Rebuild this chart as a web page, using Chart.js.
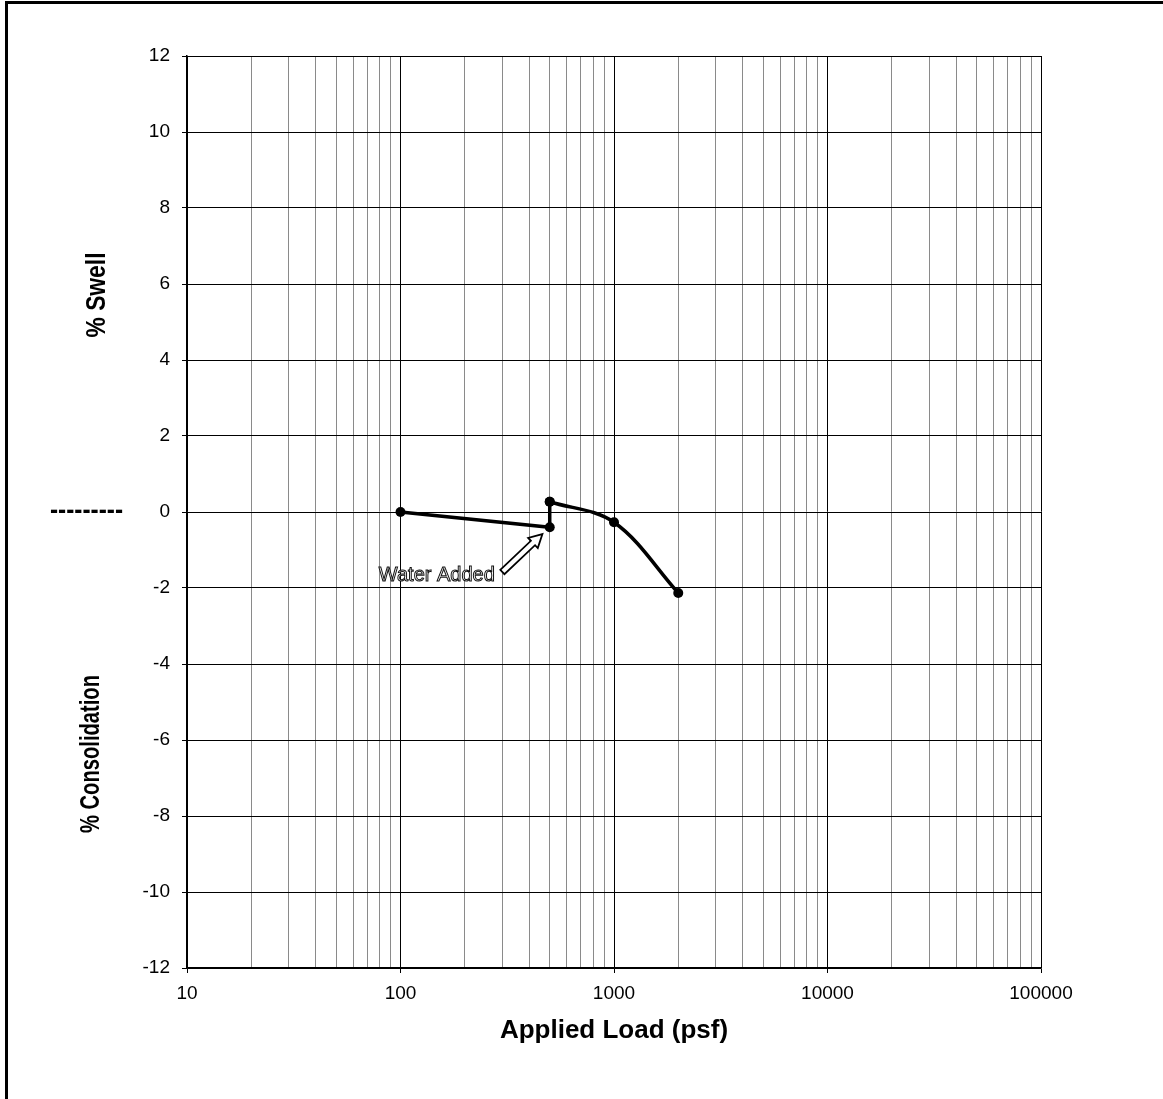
<!DOCTYPE html>
<html>
<head>
<meta charset="utf-8">
<script src="https://cdn.jsdelivr.net/npm/chart.js@4/dist/chart.umd.min.js"></script>
<style>
  html, body { margin: 0; padding: 0; background: #fff; }
  #wrap { width: 1163px; height: 1099px; position: relative; }
</style>
</head>
<body>
<div id="wrap"><canvas id="grafico"></canvas></div>
<script>
// Dados do ensaio (carga em psf, % swell / consolidação)
const cargaAntes = [100, 500, 500];
const deformAntes = [0, -0.40, 0.27];
const cargaDepois = [500, 1000, 2000];
const deformDepois = [0.27, -0.27, -2.13];

// Eixos
const decadas = [10, 100, 1000, 10000, 100000];
const yTicks = [-12, -10, -8, -6, -4, -2, 0, 2, 4, 6, 8, 10, 12];

// Anotação "Water Added" (em unidades dos eixos)
const notaTexto = 'Water Added';
const notaPos = { x: 148, y: -1.68 };
const setaInicio = { x: 300, y: -1.58 };
const setaFim = { x: 462, y: -0.58 };

const fonte = '"Liberation Sans", Arial, sans-serif';

// Ticks do eixo x: 1..9 x cada década
const xTicks = [];
decadas.forEach(function (d, i) {
    if (i === decadas.length - 1) { xTicks.push(d); return; }
    for (let k = 1; k < 10; k++) xTicks.push(d * k);
});
const ehDecada = v => decadas.indexOf(v) >= 0;

// texto condensado: escala na horizontal até caber no comprimento
function textoEstreito(ctx, txt, x, y, comp, rot) {
    ctx.save();
    ctx.translate(x, y);
    if (rot) ctx.rotate(-Math.PI / 2);
    const w = ctx.measureText(txt).width;
    ctx.scale(comp / w, 1);
    ctx.fillText(txt, 0, 0);
    ctx.restore();
}

// Plugin para textos e anotação
const extras = {
    id: 'extras',
    afterDraw(chart) {
        const ctx = chart.ctx;
        const sx = chart.scales.x, sy = chart.scales.y;
        ctx.save();

        // Moldura (só topo e esquerda)
        ctx.fillStyle = '#000';
        ctx.fillRect(5, 1, 1158, 3);
        ctx.fillRect(5, 1, 3, 1098);

        // Título do eixo x
        ctx.font = 'bold 26px ' + fonte;
        ctx.textAlign = 'center';
        ctx.textBaseline = 'middle';
        ctx.fillText('Applied Load (psf)', (sx.left + sx.right) / 2, 1031);

        // Títulos do eixo y
        ctx.font = 'bold 28px ' + fonte;
        textoEstreito(ctx, '% Swell', 97, 295, 85, true);
        textoEstreito(ctx, '% Consolidation', 91, 754, 158, true);

        // tracejado na linha do zero
        ctx.textAlign = 'left';
        textoEstreito(ctx, '---------', 50, sy.getPixelForValue(0) - 1, 73, false);

        // Texto vazado "Water Added"
        ctx.save();
        ctx.font = '20px ' + fonte;
        ctx.textAlign = 'center';
        ctx.fillStyle = '#fff';
        ctx.strokeStyle = '#111';
        ctx.lineWidth = 1;
        const tx = sx.getPixelForValue(notaPos.x), ty = sy.getPixelForValue(notaPos.y);
        ctx.fillText(notaTexto, tx, ty);
        ctx.strokeText(notaTexto, tx, ty);
        ctx.restore();

        // Seta vazada
        const x0 = sx.getPixelForValue(setaInicio.x), y0 = sy.getPixelForValue(setaInicio.y);
        const x1 = sx.getPixelForValue(setaFim.x), y1 = sy.getPixelForValue(setaFim.y);
        const ang = Math.atan2(y1 - y0, x1 - x0);
        const comp = Math.hypot(x1 - x0, y1 - y0);
        const haste = 3, cabeca = 7, cabComp = 13;
        ctx.save();
        ctx.translate(x0, y0);
        ctx.rotate(ang);
        ctx.beginPath();
        ctx.moveTo(0, -haste);
        ctx.lineTo(comp - cabComp, -haste);
        ctx.lineTo(comp - cabComp, -cabeca);
        ctx.lineTo(comp, 0);
        ctx.lineTo(comp - cabComp, cabeca);
        ctx.lineTo(comp - cabComp, haste);
        ctx.lineTo(0, haste);
        ctx.closePath();
        ctx.fillStyle = '#fff';
        ctx.fill();
        ctx.strokeStyle = '#000';
        ctx.lineWidth = 1.8;
        ctx.stroke();
        ctx.restore();

        ctx.restore();
    }
};

const estiloSerie = {
    showLine: true,
    borderColor: '#000',
    borderWidth: 3.5,
    backgroundColor: '#000',
    pointRadius: 5,
    pointBorderWidth: 0
};

const grafico = new Chart(document.getElementById('grafico'), {
    type: 'scatter',
    data: {
        datasets: [
            Object.assign({ data: cargaAntes.map((c, i) => ({ x: c, y: deformAntes[i] })), tension: 0 }, estiloSerie),
            Object.assign({ data: cargaDepois.map((c, i) => ({ x: c, y: deformDepois[i] })), tension: 0.35 }, estiloSerie)
        ]
    },
    options: {
        responsive: true,
        maintainAspectRatio: false,
        animation: false,
        layout: { padding: { top: 56, right: 122, left: 0, bottom: 0 } },
        plugins: { legend: { display: false }, tooltip: { enabled: false } },
        scales: {
            x: {
                type: 'logarithmic',
                min: 10,
                max: 100000,
                afterBuildTicks: s => { s.ticks = xTicks.map(v => ({ value: v, major: ehDecada(v) })); },
                afterFit: s => { s.height = 131; },
                border: { color: '#000', width: 1.5 },
                grid: {
                    color: c => ehDecada(c.tick.value) ? '#000' : '#8a8a8a',
                    lineWidth: 1,
                    tickLength: 5,
                    tickColor: c => ehDecada(c.tick.value) ? '#000' : 'rgba(0,0,0,0)'
                },
                ticks: {
                    autoSkip: false,
                    maxRotation: 0,
                    padding: 9,
                    color: '#000',
                    font: { family: fonte, size: 19 },
                    callback: v => ehDecada(v) ? String(v) : ''
                }
            },
            y: {
                min: -12,
                max: 12,
                afterBuildTicks: s => { s.ticks = yTicks.map(v => ({ value: v })); },
                afterFit: s => { s.width = 187; },
                border: { color: '#000', width: 1.5 },
                grid: { color: '#000', lineWidth: 1, tickLength: 5, tickColor: '#000' },
                ticks: {
                    padding: 12,
                    color: '#000',
                    font: { family: fonte, size: 19 }
                }
            }
        }
    },
    plugins: [extras]
});
</script>
</body>
</html>
